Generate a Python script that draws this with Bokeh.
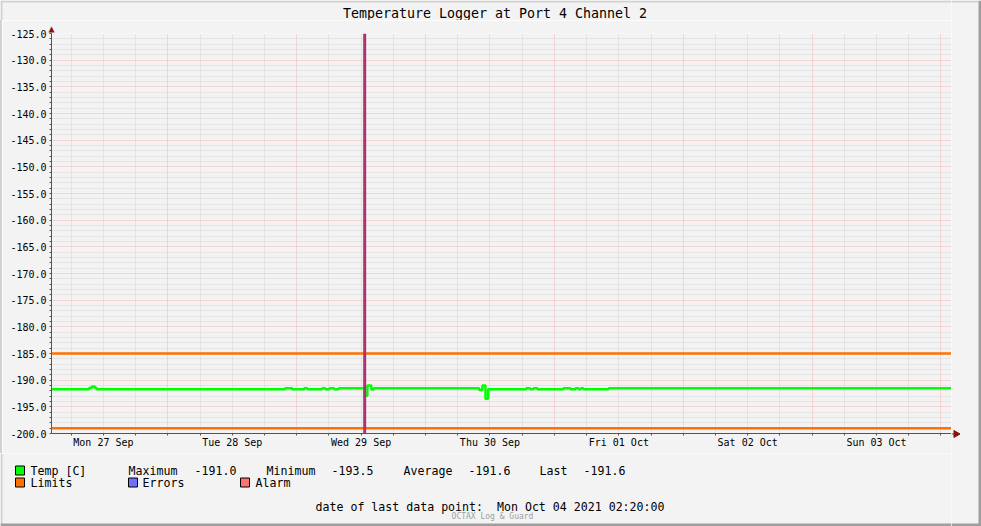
import math
import pandas as pd
from bokeh.plotting import figure
from bokeh.layouts import column, row
from bokeh.core.properties import value
from bokeh.models import (FixedTicker, PrintfTickFormatter, DatetimeTickFormatter, Span, Range1d,
                          Title)
from bokeh.embed import file_html
from bokeh.resources import INLINE

# ---------------- data ----------------
chart_title = "Temperature Logger at Port 4 Channel 2"
t_start = "2021-09-27 02:20"
t_end = "2021-10-04 02:20"

temp_times = [
    "2021-09-27 02:20", "2021-09-27 09:20", "2021-09-27 09:50", "2021-09-27 10:25", "2021-09-27 10:45",
    "2021-09-28 21:50", "2021-09-28 23:10",
    "2021-09-29 01:25", "2021-09-29 02:00",
    "2021-09-29 04:45", "2021-09-29 05:20",
    "2021-09-29 06:05", "2021-09-29 07:00",
    "2021-09-29 07:50",
    "2021-09-29 12:40", "2021-09-29 13:10", "2021-09-29 13:55", "2021-09-29 14:20",
    "2021-09-30 10:00", "2021-09-30 10:35", "2021-09-30 11:10", "2021-09-30 11:40",
    "2021-09-30 18:45", "2021-09-30 19:30", "2021-09-30 20:05", "2021-09-30 20:50",
    "2021-10-01 01:40", "2021-10-01 03:00", "2021-10-01 03:55", "2021-10-01 04:30",
    "2021-10-01 04:55", "2021-10-01 05:25",
    "2021-10-01 10:05", "2021-10-04 02:20",
]
temp_values = [
    -191.7, -191.45, -191.2, -191.45, -191.7,
    -191.5, -191.7,
    -191.5, -191.7,
    -191.5, -191.7,
    -191.5, -191.7,
    -191.5,
    -192.9, -191.0, -191.75, -191.5,
    -191.85, -191.0, -193.5, -191.7,
    -191.5, -191.7, -191.5, -191.7,
    -191.5, -191.7, -191.5, -191.7,
    -191.5, -191.7,
    -191.5, -191.5,
]
limit_values = [-185.0, -199.0]
vrule_time = "2021-09-29 12:40"
y_min, y_max = -200.0, -125.0
y_major = [-200, -195, -190, -185, -180, -175, -170, -165, -160, -155, -150, -145, -140, -135, -130, -125]

legend_names = ["Temp [C]", "Limits", "Errors", "Alarm"]
legend_colors = ["#00ff00", "#ff7000", "#7070ff", "#ff7070"]
stat_names = ["Maximum", "Minimum", "Average", "Last"]
stat_values = ["-191.0", "-193.5", "-191.6", "-191.6"]
last_point_text = "date of last data point:\u00a0\u00a0Mon Oct 04 2021 02:20:00"
footer_text = "OCTAX Log & Guard"

# ---------------- styles / layout ----------------
BG = "#f3f3f3"
MONO = "DejaVu Sans Mono"
C_TEMP = legend_colors[0]
C_LIMIT = legend_colors[1]
C_VRULE = "#ad3270"
C_AXIS = "#555555"
C_ARROW = "#8b1010"
C_EDGE_LIGHT = "#d2d2d2"
C_EDGE_DARK = "#9e9e9e"
LEG_FS = "11.6px"

W, H = 981, 526
FL, FT, FW, FH = 51, 33, 900, 400      # frame left/top/width/height in page px
P_TOP = 13                              # top border of the main figure (holds the axis arrow)
MAIN_BOTTOM = 20
MAIN_H = P_TOP + FH + MAIN_BOTTOM
TOP_H = FT - P_TOP
BOT_H = H - TOP_H - MAIN_H
LEFT_W = FL + FW
RIGHT_W = W - LEFT_W

x0 = pd.Timestamp(t_start)
x1 = pd.Timestamp(t_end)
times = pd.to_datetime(temp_times)


def ms(ts):
    return pd.Timestamp(ts).timestamp() * 1000.0


day0 = x0.normalize()
noons = [ms(day0 + pd.Timedelta(hours=12) + pd.Timedelta(days=i)) for i in range(8)]
midnights = [ms(day0 + pd.Timedelta(days=i)) for i in range(9)]
six_all = [ms(day0 + pd.Timedelta(hours=6 * i)) for i in range(4 * 8 + 1)]
six_minor = [v for v in six_all if v not in midnights]
y_minor_all = list(range(int(y_min), int(y_max) + 1))
y_minor = [v for v in y_minor_all if v not in y_major]


def blank(width, height, xr, yr):
    f = figure(width=width, height=height, x_range=xr, y_range=yr, title=None,
               min_border=0, output_backend="svg", toolbar_location=None)
    f.axis.visible = False
    f.grid.visible = False
    f.background_fill_color = BG
    f.border_fill_color = BG
    f.outline_line_color = None
    return f


def band(f, l, r, t, b, color):
    f.quad(left=[l], right=[r], top=[t], bottom=[b], fill_color=color, line_color=None)


# ---------------- main chart ----------------
p = figure(
    x_axis_type="datetime",
    x_range=Range1d(x0, x1),
    y_range=Range1d(y_min, y_max),
    frame_width=FW, frame_height=FH,
    min_border_left=FL - 2, min_border_right=0, min_border_top=P_TOP, min_border_bottom=MAIN_BOTTOM,
    output_backend="svg", toolbar_location=None,
)
# y-axis arrow head, drawn in the figure's top panel
p.title = Title(text="\u25b2", text_font=MONO, text_font_size="10px", text_color=C_ARROW,
                text_font_style="normal", align="left", offset=-3, standoff=0,
                vertical_align="bottom")
p.styles = {"border-left": "2px solid " + C_EDGE_LIGHT}
p.background_fill_color = BG
p.border_fill_color = BG
p.outline_line_color = None

p.xgrid.ticker = FixedTicker(ticks=midnights, minor_ticks=six_minor)
p.ygrid.ticker = FixedTicker(ticks=y_major, minor_ticks=y_minor)
for g in (p.xgrid, p.ygrid):
    g.grid_line_color = "#ff0000"
    g.grid_line_alpha = 0.25
    g.grid_line_dash = "1 1"
    g.minor_grid_line_color = "#bdbdbd"
    g.minor_grid_line_alpha = 0.55
    g.minor_grid_line_dash = "1 1"

p.yaxis.ticker = FixedTicker(ticks=y_major, minor_ticks=y_minor)
p.yaxis.formatter = PrintfTickFormatter(format="%.1f")
p.xaxis.ticker = FixedTicker(ticks=noons, minor_ticks=six_all)
fmt = "%a %d %b"
p.xaxis.formatter = DatetimeTickFormatter(
    milliseconds=fmt, seconds=fmt, minsec=fmt, minutes=fmt, hourmin=fmt,
    hours=fmt, days=fmt, months=fmt, years=fmt)
for ax in (p.xaxis[0], p.yaxis[0]):
    ax.axis_line_color = C_AXIS
    ax.major_tick_line_color = C_AXIS
    ax.minor_tick_line_color = C_AXIS
    ax.major_tick_in = 0
    ax.minor_tick_in = 0
    ax.minor_tick_out = 2
    ax.major_label_text_font = MONO
    ax.major_label_text_font_size = "10px"
    ax.major_label_text_color = "#000000"
p.yaxis.major_tick_out = 2
p.yaxis.major_label_standoff = 3
p.xaxis.major_tick_out = 0
p.xaxis.major_label_standoff = 1

for lv in limit_values:
    p.add_layout(Span(location=lv, dimension="width", line_color=C_LIMIT, line_width=2.5))

p.step(times, temp_values, mode="after", line_color=C_TEMP, line_width=2.5)

p.add_layout(Span(location=pd.Timestamp(vrule_time), dimension="height",
                  line_color=C_VRULE, line_width=3))

# ---------------- top strip: title ----------------
top = blank(LEFT_W, TOP_H, Range1d(0, LEFT_W), Range1d(TOP_H, 0))
band(top, 0, LEFT_W, 0, 2, C_EDGE_LIGHT)
band(top, 0, 2, 0, TOP_H, C_EDGE_LIGHT)
top.text(x=[494.5], y=[13], text=[chart_title], text_font=value(MONO),
         text_font_size=value("13.3px"), text_align="center", text_baseline="middle",
         text_color="#000000")

# ---------------- bottom strip: legend ----------------
ytop = TOP_H + MAIN_H
bot = blank(LEFT_W, BOT_H, Range1d(0, LEFT_W), Range1d(H, ytop))
band(bot, 0, 2, ytop, H, C_EDGE_LIGHT)
band(bot, 0, LEFT_W, H - 3, H, C_EDGE_DARK)


def txt(f, s, x, y, size, align="left", color="#000000"):
    f.text(x=[x], y=[y], text=[s], text_font=value(MONO), text_font_size=value(size),
           text_align=align, text_baseline="middle", text_color=color)


def square(f, x, y, color):
    f.rect(x=[x + 4.5], y=[y], width=9, height=9, fill_color=color, line_color="#000000",
           line_width=1)


row1_y, row2_y = 470, 482
square(bot, 15, row1_y, legend_colors[0])
txt(bot, legend_names[0], 30, row1_y, LEG_FS)
stat_x = [128, 266, 403, 539]
val_x = [194, 331, 468, 583]
for n, v, sx, vx in zip(stat_names, stat_values, stat_x, val_x):
    txt(bot, n, sx, row1_y, LEG_FS)
    txt(bot, v, vx, row1_y, LEG_FS)

sq_x = [15, 128, 240]
tx_x = [30, 142, 255]
for name, col, sxx, txx in zip(legend_names[1:], legend_colors[1:], sq_x, tx_x):
    square(bot, sxx, row2_y, col)
    txt(bot, name, txx, row2_y, LEG_FS)

txt(bot, last_point_text, 315, 506, LEG_FS)
txt(bot, footer_text, 492, 516, "8px", align="center", color="#a0a0a0")

# ---------------- right strip: x-axis arrow + edge ----------------
right = blank(RIGHT_W, H, Range1d(LEFT_W, W), Range1d(H, 0))
band(right, LEFT_W, W - 3, 0, 2, C_EDGE_LIGHT)
band(right, W - 3, W, 0, H, C_EDGE_DARK)
band(right, LEFT_W, W, H - 3, H, C_EDGE_DARK)
right.segment(x0=[LEFT_W], y0=[FT + FH + 0.5], x1=[LEFT_W + 5], y1=[FT + FH + 0.5],
              line_color=C_AXIS, line_width=1)
right.scatter(x=[LEFT_W + 4.5], y=[FT + FH + 0.5], marker="triangle", angle=-math.pi / 2,
              size=7, fill_color=C_ARROW, line_color=C_ARROW)

layout = row(column(column(top, spacing=0), p, column(bot, spacing=0), spacing=0), right, spacing=0)
open("out.html", "w").write(file_html(layout, INLINE))
